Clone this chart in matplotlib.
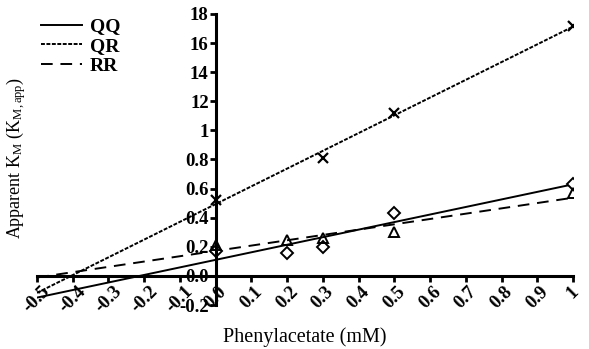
import numpy as np
import matplotlib.pyplot as plt

# Phenylacetate concentrations (mM) and apparent KM values
conc = [0, 0.2, 0.3, 0.5, 1.0]
qq_km = [0.17, 0.16, 0.20, 0.43, 0.63]
rr_km = [0.21, 0.25, 0.26, 0.30, 0.57]
qr_conc = [0, 0.3, 0.5, 1.0]
qr_km = [0.52, 0.81, 1.12, 1.72]

x_ticks = [-0.5, -0.4, -0.3, -0.2, -0.1, 0.0, 0.1, 0.2, 0.3, 0.4, 0.5, 0.6, 0.7, 0.8, 0.9, 1.0]
x_labels = ['-0.5', '-0.4', '-0.3', '-0.2', '-0.1', '0.0', '0.1', '0.2', '0.3', '0.4',
            '0.5', '0.6', '0.7', '0.8', '0.9', '1']
y_ticks = [-0.2, 0.0, 0.2, 0.4, 0.6, 0.8, 1.0, 1.2, 1.4, 1.6, 1.8]
y_labels = ['-0.2', '0.0', '0.2', '0.4', '0.6', '0.8', '1', '12', '14', '16', '18']

plt.rcParams['font.family'] = ['Liberation Serif', 'DejaVu Serif']
plt.rcParams['mathtext.fontset'] = 'custom'
plt.rcParams['mathtext.rm'] = 'Liberation Serif'
plt.rcParams['mathtext.it'] = 'Liberation Serif:italic'

fig = plt.figure(figsize=(5.89, 3.49), dpi=100)
ax = fig.add_axes([37 / 589, 1 - 305 / 349, 536 / 589, 291 / 349])

xfit = np.array([-0.5, 1.0])

def fit_line(x, y):
    slope, intercept = np.polyfit(x, y, 1)
    return slope * xfit + intercept

ax.plot(xfit, fit_line(conc, qq_km), color='black', lw=1.4, ls='-', label='QQ')
ax.plot(xfit, fit_line(qr_conc, qr_km), color='black', lw=1.4, ls=(0, (2, 0.8)), label='QR')
ax.plot(xfit, fit_line(conc, rr_km), color='black', lw=1.4, ls=(0, (6, 4)), label='RR')

ax.plot(qr_conc, qr_km, 'x', color='black', ms=7, mew=1.6)
ax.plot(conc, qq_km, 'D', mfc='white', mec='black', ms=6, mew=1.4)
ax.plot(conc, rr_km, '^', mfc='none', mec='black', ms=7, mew=1.4)

ax.set_xlim(-0.5, 1.0)
ax.set_ylim(-0.2, 1.8)

ax.spines['left'].set_position(('data', 0))
ax.spines['bottom'].set_position(('data', 0))
ax.spines['top'].set_visible(False)
ax.spines['right'].set_visible(False)
ax.spines['left'].set_linewidth(2.2)
ax.spines['bottom'].set_linewidth(2.2)

ax.set_xticks(x_ticks)
ax.set_xticklabels(x_labels, rotation=45, ha='center', fontsize=13.5, fontweight='bold')
ax.set_yticks(y_ticks)
ax.set_yticklabels(y_labels, fontsize=13.5, fontweight='bold')
ax.tick_params(axis='both', direction='out', length=4, width=2, pad=1)

fig.text(305 / 589, 1 - 337 / 349, 'Phenylacetate (mM)', ha='center', va='center',
         fontsize=14.5)
fig.text(16 / 589, 1 - 158 / 349, r'Apparent K$_{\rm M}$ (K$_{\rm M,app}$)',
         ha='center', va='center', rotation=90, fontsize=13)

leg = ax.legend(loc='upper left', bbox_to_anchor=(0.008, 0.987), frameon=False,
                prop={'size': 14, 'weight': 'bold'}, handlelength=2.1, labelspacing=0.1,
                handletextpad=0.4, borderpad=0, borderaxespad=0)

fig.savefig('out.png', dpi=100)
